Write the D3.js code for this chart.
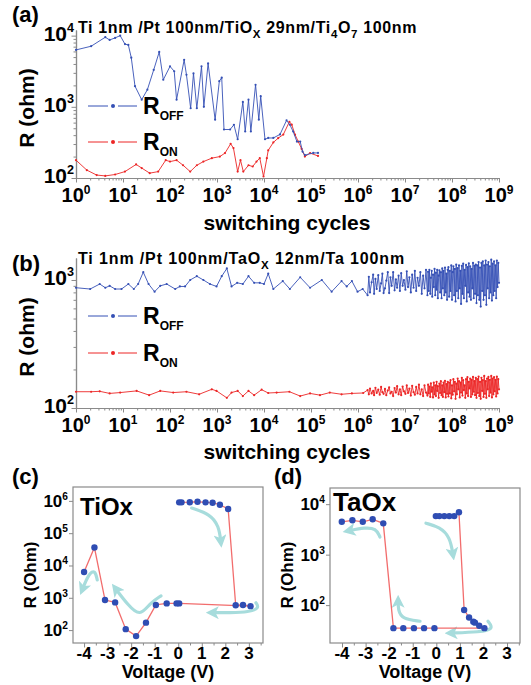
<!DOCTYPE html>
<html>
<head>
<meta charset="utf-8">
<script src="https://cdn.jsdelivr.net/npm/d3@7"></script>
<style>
  body { margin: 0; background: #fff; }
  svg { font-family: Arial, "Liberation Sans", sans-serif; font-weight: bold; }
</style>
</head>
<body>
<svg id="fig" width="531" height="685"></svg>
<script>
// ---- data ----
const cycleTicks = [1e0, 1e1, 1e2, 1e3, 1e4, 1e5, 1e6, 1e7, 1e8, 1e9];
const cycleExp = ['0', '1', '2', '3', '4', '5', '6', '7', '8', '9'];

// (a) TiOx device: [cycles, ohm]
const aOff = [[1, 6300], [2.1, 7100], [4.2, 9500], [5.2, 8700], [6.8, 9300], [8.7, 10000],
  [11, 7600], [13, 7400], [15, 4900], [18, 1950], [25, 1260], [33, 1740], [45, 3300],
  [59, 5900], [72, 2400], [100, 3700], [123, 3160], [138, 1260], [200, 4570], [224, 2820],
  [275, 955], [316, 2950], [372, 955], [468, 3700], [525, 1000], [646, 4070], [912, 660],
  [1120, 2290], [1260, 2570], [1410, 480], [1900, 480], [2290, 560], [2750, 350],
  [3550, 1170], [3980, 450], [4680, 1260], [5250, 450], [6610, 2040], [7760, 660],
  [8510, 1410], [10500, 350], [12300, 365], [15800, 365], [21900, 410], [30200, 645],
  [35500, 560], [41700, 450], [50100, 325], [58900, 325], [66100, 235], [74100, 210],
  [112000, 225], [141000, 225]];
const aOn = [[1, 178], [1.7, 129], [2.75, 110], [4.2, 107], [6.8, 112], [11, 123], [19, 155],
  [25, 138], [37, 117], [56, 123], [81, 178], [100, 170], [138, 178], [190, 151], [269, 123],
  [372, 151], [513, 170], [776, 190], [1150, 200], [1480, 224], [1950, 302], [2240, 263],
  [2750, 123], [3160, 178], [3630, 123], [4680, 151], [5750, 145], [6920, 170], [8130, 190],
  [9770, 105], [11500, 190], [12300, 245], [15800, 316], [20000, 363], [25700, 407],
  [34700, 617], [38900, 562], [45700, 407], [53700, 324], [63100, 257], [74100, 200],
  [95500, 224], [141000, 204]];

// (b) TaOx device, sparse early part: [cycles, ohm]
const bOffSparse = [[1, 870], [2, 850], [3.2, 930], [4.2, 870], [5.2, 900], [6.8, 850],
  [9.3, 850], [13, 930], [17, 850], [21, 930], [27, 1150], [35, 930], [47, 810], [62, 900],
  [85, 930], [129, 850], [162, 890], [209, 890], [269, 1000], [372, 1070], [513, 1000],
  [708, 930], [977, 890], [1260, 1070], [1620, 1230], [2040, 890], [2690, 950], [3550, 930],
  [4680, 1070], [6170, 950], [8130, 950], [10000, 930], [12300, 1120], [15800, 850],
  [25100, 980], [35500, 850], [58900, 1050], [95500, 870], [170000, 1000], [275000, 810],
  [447000, 980], [575000, 890], [741000, 980], [977000, 810], [1260000, 850]];
const bOnSparse = [[1, 134], [2.1, 134], [3.2, 135], [5.2, 130], [8.7, 132], [19.5, 136],
  [36, 126], [62, 136], [117, 132], [224, 134], [417, 128], [776, 140], [977, 136],
  [1620, 120], [2040, 132], [2750, 136], [3550, 124], [4680, 136], [6170, 126], [8900, 139],
  [12300, 131], [18600, 132], [34700, 134], [58900, 124], [95500, 130], [155000, 126],
  [251000, 132], [447000, 128], [741000, 130], [1290000, 131]];

// (b) dense late part, shared cycle counts
const denseCycles = [
  1.6e6, 1.7e6, 1.8e6, 1.95e6, 2.1e6, 2.2e6, 2.35e6, 2.5e6, 2.7e6, 2.9e6,
  3.1e6, 3.3e6, 3.5e6, 3.75e6, 4.0e6, 4.3e6, 4.6e6, 4.9e6, 5.2e6, 5.6e6,
  6.0e6, 6.4e6, 6.8e6, 7.3e6, 7.8e6, 8.3e6, 8.9e6, 9.5e6, 1.02e7, 1.09e7,
  1.16e7, 1.24e7, 1.33e7, 1.42e7, 1.52e7, 1.62e7, 1.73e7, 1.85e7, 1.98e7, 2.12e7,
  2.27e7, 2.43e7, 2.6e7, 2.8e7,
  3.0e7, 3.1e7, 3.2e7, 3.3e7, 3.45e7, 3.55e7, 3.7e7, 3.8e7, 3.95e7, 4.1e7,
  4.25e7, 4.4e7, 4.55e7, 4.7e7, 4.85e7, 5.0e7, 5.2e7, 5.4e7, 5.6e7, 5.8e7,
  6.0e7, 6.2e7, 6.4e7, 6.6e7, 6.85e7, 7.1e7, 7.35e7, 7.6e7, 7.85e7, 8.1e7,
  8.4e7, 8.7e7, 9.0e7, 9.3e7, 9.65e7, 1.0e8, 1.035e8, 1.07e8, 1.11e8, 1.15e8,
  1.19e8, 1.23e8, 1.27e8, 1.32e8, 1.36e8, 1.41e8, 1.46e8, 1.51e8, 1.56e8, 1.62e8,
  1.67e8, 1.73e8, 1.79e8, 1.86e8, 1.92e8, 1.99e8, 2.06e8, 2.13e8, 2.2e8, 2.28e8,
  2.36e8, 2.44e8, 2.53e8, 2.62e8, 2.71e8, 2.8e8, 2.9e8, 3.0e8, 3.1e8, 3.21e8,
  3.32e8, 3.44e8, 3.56e8, 3.68e8, 3.81e8, 3.95e8, 4.08e8, 4.23e8, 4.38e8, 4.53e8,
  4.69e8, 4.85e8, 5.02e8, 5.2e8, 5.38e8, 5.57e8, 5.76e8, 5.96e8, 6.17e8, 6.39e8,
  6.61e8, 6.84e8, 7.08e8, 7.33e8, 7.58e8, 7.85e8, 8.12e8, 8.41e8, 8.7e8, 9.0e8,
  9.32e8, 9.65e8, 1.0e9];
const bOffDense = [
  760, 1060, 800, 960, 1100, 780, 1020, 850, 1090, 820,
  940, 1120, 790, 860, 990, 1150, 790, 1050, 900, 1150,
  830, 1010, 870, 1080, 820, 1130, 900, 1000, 840, 1170,
  880, 1050, 800, 1100, 870, 1180, 820, 1040, 900, 1150,
  780, 1080, 860, 1200,
  760, 1160, 820, 1200, 780, 1040, 1180, 740, 1100, 880,
  1220, 760, 1140, 840, 1200, 720, 1080, 1190, 800, 1150,
  720, 1230, 860, 1180, 760, 1250, 800, 1120, 700, 1200,
  1260, 740, 1180, 820, 1300, 700, 1150, 1280, 760, 1220,
  680, 1320, 820, 1240, 720, 1300, 860, 1180, 650, 1290,
  780, 1340, 720, 1200, 900, 1310, 680, 1260, 800, 1350,
  740, 1280, 700, 1220, 860, 1360, 720, 1290, 780, 1320,
  660, 1300, 760, 1380, 700, 1250, 620, 1360, 820, 1400,
  700, 1300, 760, 1420, 640, 1320, 860, 1380, 720, 1280,
  800, 1440, 690, 1340, 760, 1400, 820, 1300, 720, 1420,
  880, 1360, 950];
const bOnDense = [
  138, 128, 142, 130, 136, 126, 144, 131, 139, 127,
  146, 133, 129, 141, 126, 137, 145, 130, 134, 124,
  143, 132, 148, 128, 140, 126, 147, 135, 129, 150,
  131, 142, 125, 149, 133, 127, 146, 130, 152, 128,
  140, 124, 150, 132,
  125, 152, 130, 147, 122, 156, 134, 145, 121, 158,
  128, 150, 124, 160, 136, 148, 120, 155, 131, 162,
  126, 150, 122, 158, 133, 163, 121, 154, 129, 160,
  123, 158, 130, 165, 119, 150, 127, 168, 135, 160,
  118, 155, 128, 170, 140, 162, 121, 158, 132, 172,
  125, 165, 138, 150, 120, 168, 130, 174, 124, 160,
  142, 170, 122, 166, 128, 175, 134, 162, 126, 172,
  120, 168, 131, 176, 124, 160, 118, 172, 136, 165,
  122, 178, 129, 162, 120, 170, 140, 175, 124, 166,
  132, 178, 121, 170, 128, 174, 135, 166, 123, 176,
  130, 168, 140];

// (c) TiOx R-V sweep, in sweep order
const cVolt = [0.04, 0.14, 0.49, 0.82, 1.16, 1.46, 1.77, 2.12, 2.44, 2.75, 3.07,
  0.04, -0.07, -0.49, -0.95, -1.37, -1.79, -2.23, -2.68, -3.11, -3.56, -4.0];
const cRes = [9.0e5, 9.0e5, 9.1e5, 9.4e5, 9.0e5, 8.8e5, 7.6e5, 5.6e5, 590, 600, 550,
  670, 670, 670, 600, 170, 65, 107, 720, 850, 36000, 6300];
// (d) TaOx R-V sweep
const dVolt = [-0.02, 0.13, 0.34, 0.55, 0.76, 0.96, 1.18, 1.39, 1.57, 1.64, 1.82, 2.04,
  -0.08, -0.52, -0.95, -1.40, -1.82, -2.25, -2.70, -3.12, -3.56, -4.01];
const dRes = [5800, 5800, 5800, 5800, 5800, 6900, 80, 57, 47, 45, 39, 35,
  35, 35, 35, 35, 35, 4170, 5010, 4470, 4790, 4470];

const voltTicks = [-4, -3, -2, -1, 0, 1, 2, 3];
const cResTicks = [1e2, 1e3, 1e4, 1e5, 1e6];
const cResExp = ['2', '3', '4', '5', '6'];
const dResTicks = [1e2, 1e3, 1e4];
const dResExp = ['2', '3', '4'];

// sweep-direction arrows, [V, ohm] anchor points
const cArrows = [
  [[0.57, 6.0e5], [1.35, 3.9e5], [1.73, 1.66e5], [1.81, 5.2e4]],
  [[3.30, 700], [3.45, 480], [3.0, 360], [2.2, 345], [1.4, 345]],
  [[-0.73, 1150], [-1.2, 690], [-1.62, 260], [-2.13, 590], [-2.68, 2000]],
  [[-3.44, 3560], [-3.53, 7200], [-3.79, 5800], [-4.08, 1740]]];
const dArrows = [
  [[-0.44, 4200], [0.16, 3500], [0.58, 2240], [0.71, 980]],
  [[2.19, 48], [2.45, 33.5], [1.85, 29.3], [0.58, 28]],
  [[-0.69, 48], [-1.45, 53], [-1.62, 80], [-1.62, 125]],
  [[-2.39, 2240], [-2.56, 3300], [-3.02, 3460], [-3.75, 2950]]];

// ---- drawing ----
const svg = d3.select('#fig');
const GRAY = '#8a8a8a';
const BLUE = '#3550b5';
const RED = '#ec2626';
const CYAN = '#a7dcdc';

svg.append('defs').append('marker')
  .attr('id', 'head')
  .attr('markerUnits', 'userSpaceOnUse')
  .attr('viewBox', '0 -6 12 12')
  .attr('refX', 7)
  .attr('refY', 0)
  .attr('markerWidth', 13)
  .attr('markerHeight', 13)
  .attr('orient', 'auto')
  .append('path')
  .attr('d', 'M0,-6L12,0L0,6L3,0Z')
  .attr('fill', CYAN);

function powLabel(g, exp, x, y, size, anchor) {
  const t = g.append('text')
    .attr('x', x)
    .attr('y', y)
    .attr('text-anchor', anchor)
    .attr('font-size', size);
  t.append('tspan').text('10');
  t.append('tspan').attr('dy', -size * 0.42).attr('font-size', size * 0.6).text(exp);
  return t;
}

// text made of [string, 'sub'|undefined] parts
function richText(g, parts, x, y, size, width) {
  const t = g.append('text').attr('x', x).attr('y', y).attr('font-size', size);
  let shifted = false;
  parts.forEach(([s, kind]) => {
    const sp = t.append('tspan').text(s);
    if (kind === 'sub') {
      sp.attr('font-size', size * 0.72).attr('dy', shifted ? 0 : size * 0.3);
      shifted = true;
    } else if (shifted) {
      sp.attr('dy', -size * 0.3);
      shifted = false;
    }
  });
  if (width) {
    const w = t.node().getComputedTextLength();
    const n = parts.reduce((a, p) => a + p[0].length, 0);
    t.attr('letter-spacing', (width - w) / n);
  }
  return t;
}

function styleAxis(sel) {
  sel.select('.domain').attr('stroke', GRAY).attr('stroke-width', 1.2);
  sel.selectAll('.tick line').attr('stroke', GRAY);
  return sel;
}

function cyclePanel(cfg) {
  const g = svg.append('g');
  const x = d3.scaleLog().domain([1, 1e9]).range([76, 499]);
  const y = d3.scaleLog().domain(cfg.yDomain).range([cfg.bottom, cfg.top]);

  const minorX = x.ticks(10).filter((d) => !cycleTicks.includes(d));
  const minorY = y.ticks(10).filter((d) => !cfg.yTicks.includes(d));

  styleAxis(g.append('g')
    .attr('transform', `translate(0,${cfg.bottom})`)
    .call(d3.axisBottom(x).tickValues(minorX).tickSize(2.5).tickSizeOuter(0).tickFormat('')));
  styleAxis(g.append('g')
    .attr('transform', `translate(0,${cfg.bottom})`)
    .call(d3.axisBottom(x).tickValues(cycleTicks).tickSize(4.5).tickSizeOuter(0).tickFormat('')));
  styleAxis(g.append('g')
    .attr('transform', 'translate(76,0)')
    .call(d3.axisLeft(y).tickValues(minorY).tickSize(2.5).tickSizeOuter(0).tickFormat('')));
  styleAxis(g.append('g')
    .attr('transform', 'translate(76,0)')
    .call(d3.axisLeft(y).tickValues(cfg.yTicks).tickSize(4.5).tickSizeOuter(0).tickFormat('')));

  cycleTicks.forEach((d, i) => {
    powLabel(g, cycleExp[i], x(d), cfg.bottom + 24, 20, 'middle');
  });
  cfg.yTicks.forEach((d, i) => {
    powLabel(g, cfg.yExp[i], 74, y(d) + 5, 21, 'end');
  });

  g.append('text')
    .attr('x', 287)
    .attr('y', cfg.xLabelY)
    .attr('text-anchor', 'middle')
    .attr('font-size', 21)
    .text('switching cycles');
  g.append('text')
    .attr('transform', `translate(34,${(cfg.top + cfg.bottom) / 2 + 4}) rotate(-90)`)
    .attr('text-anchor', 'middle')
    .attr('font-size', 21)
    .text('R (ohm)');
  g.append('text')
    .attr('x', 12)
    .attr('y', cfg.tagY)
    .attr('font-size', 22)
    .text(cfg.tag);
  richText(g, cfg.title, 78, cfg.titleY, 16, cfg.titleWidth);

  const line = d3.line().x((d) => x(d[0])).y((d) => y(d[1]));
  [[cfg.on, RED], [cfg.off, BLUE]].forEach(([data, col]) => {
    g.append('path')
      .datum(data)
      .attr('d', line)
      .attr('fill', 'none')
      .attr('stroke', col)
      .attr('stroke-width', 0.9);
    g.append('g').selectAll('circle')
      .data(data)
      .join('circle')
      .attr('cx', (d) => x(d[0]))
      .attr('cy', (d) => y(d[1]))
      .attr('r', 1.1)
      .attr('fill', col);
  });

  // legend
  [[cfg.legendY[0], BLUE, 'OFF'], [cfg.legendY[1], RED, 'ON']].forEach(([ly, col, sub]) => {
    [[88, 108], [118, 137]].forEach(([a, b]) => {
      g.append('line')
        .attr('x1', a).attr('x2', b)
        .attr('y1', ly).attr('y2', ly)
        .attr('stroke', col)
        .attr('stroke-width', 1);
    });
    g.append('circle').attr('cx', 113).attr('cy', ly).attr('r', 2).attr('fill', col);
    const t = g.append('text').attr('x', 143).attr('y', ly + 8).attr('font-size', 23);
    t.append('tspan').text('R');
    t.append('tspan').attr('dy', 6).attr('font-size', 12).text(sub);
  });
}

cyclePanel({
  tag: '(a)', tagY: 22,
  title: [['Ti 1nm /Pt 100nm/TiO'], ['X', 'sub'], [' 29nm/Ti'], ['4', 'sub'], ['O'], ['7', 'sub'], [' 100nm']],
  titleY: 33, titleWidth: 339,
  top: 30, bottom: 178, yDomain: [100, 12000],
  yTicks: [1e2, 1e3, 1e4], yExp: ['2', '3', '4'],
  xLabelY: 230,
  legendY: [106, 142],
  off: aOff, on: aOn,
});

cyclePanel({
  tag: '(b)', tagY: 271,
  title: [['Ti 1nm /Pt 100nm/TaO'], ['X', 'sub'], [' 12nm/Ta 100nm']],
  titleY: 264, titleWidth: 327,
  top: 258, bottom: 408, yDomain: [100, 1485],
  yTicks: [1e2, 1e3], yExp: ['2', '3'],
  xLabelY: 459,
  legendY: [316, 353],
  off: bOffSparse.concat(denseCycles.map((c, i) => [c, bOffDense[i]])),
  on: bOnSparse.concat(denseCycles.map((c, i) => [c, bOnDense[i]])),
});

function ivPanel(cfg) {
  const g = svg.append('g');
  const x = d3.scaleLinear().domain(cfg.xDomain).range([cfg.left, cfg.right]);
  const y = d3.scaleLog().domain(cfg.yDomain).range([cfg.bottom, cfg.top]);

  g.append('rect')
    .attr('x', cfg.left)
    .attr('y', cfg.top)
    .attr('width', cfg.right - cfg.left)
    .attr('height', cfg.bottom - cfg.top)
    .attr('fill', 'none')
    .attr('stroke', GRAY)
    .attr('stroke-width', 1.2);

  const halfTicks = voltTicks.map((d) => d + 0.5);
  styleAxis(g.append('g')
    .attr('transform', `translate(0,${cfg.bottom})`)
    .call(d3.axisBottom(x).tickValues(halfTicks).tickSize(2.5).tickSizeOuter(0).tickFormat('')))
    .select('.domain').remove();
  styleAxis(g.append('g')
    .attr('transform', `translate(0,${cfg.bottom})`)
    .call(d3.axisBottom(x).tickValues(voltTicks).tickSize(4.5).tickSizeOuter(0).tickFormat('')))
    .select('.domain').remove();
  styleAxis(g.append('g')
    .attr('transform', `translate(${cfg.left},0)`)
    .call(d3.axisLeft(y).tickValues(cfg.yTicks).tickSize(4).tickSizeOuter(0).tickFormat('')))
    .select('.domain').remove();

  voltTicks.forEach((d) => {
    g.append('text')
      .attr('x', x(d))
      .attr('y', cfg.bottom + 16)
      .attr('text-anchor', 'middle')
      .attr('font-size', 17)
      .text(d < 0 ? '-' + Math.abs(d) : String(d));
  });
  cfg.yTicks.forEach((d, i) => {
    powLabel(g, cfg.yExp[i], cfg.left - 5, y(d) + 6, 17, 'end');
  });

  g.append('text')
    .attr('x', (cfg.left + cfg.right) / 2)
    .attr('y', 678)
    .attr('text-anchor', 'middle')
    .attr('font-size', 18)
    .text('Voltage (V)');
  g.append('text')
    .attr('transform', `translate(${cfg.yLabelX},575) rotate(-90)`)
    .attr('text-anchor', 'middle')
    .attr('font-size', 17)
    .text('R (Ohm)');
  g.append('text')
    .attr('x', cfg.tagX)
    .attr('y', 484)
    .attr('font-size', 22)
    .text(cfg.tag);
  g.append('text')
    .attr('x', cfg.nameX)
    .attr('y', cfg.nameY)
    .attr('font-size', cfg.nameSize)
    .text(cfg.name);

  const curve = d3.line().curve(d3.curveBasis).x((d) => x(d[0])).y((d) => y(d[1]));
  g.append('g').selectAll('path')
    .data(cfg.arrows)
    .join('path')
    .attr('d', curve)
    .attr('fill', 'none')
    .attr('stroke', CYAN)
    .attr('stroke-width', 3.2)
    .attr('stroke-linecap', 'round')
    .attr('marker-end', 'url(#head)');

  const pts = cfg.volt.map((v, i) => [v, cfg.res[i]]);
  g.append('path')
    .datum(pts)
    .attr('d', d3.line().x((d) => x(d[0])).y((d) => y(d[1])))
    .attr('fill', 'none')
    .attr('stroke', '#f26d6d')
    .attr('stroke-width', 1.3);
  g.append('g').selectAll('circle')
    .data(pts)
    .join('circle')
    .attr('cx', (d) => x(d[0]))
    .attr('cy', (d) => y(d[1]))
    .attr('r', 3.2)
    .attr('fill', '#2f4db3');
}

ivPanel({
  tag: '(c)', tagX: 12, name: 'TiOx', nameX: 80, nameY: 515, nameSize: 24,
  left: 73, right: 263, top: 487, bottom: 643,
  xDomain: [-4.47, 3.6], yDomain: [Math.pow(10, 1.6), Math.pow(10, 6.43)],
  yTicks: cResTicks, yExp: cResExp, yLabelX: 36,
  volt: cVolt, res: cRes, arrows: cArrows,
});

ivPanel({
  tag: '(d)', tagX: 274, name: 'TaOx', nameX: 333, nameY: 511, nameSize: 26,
  left: 330, right: 520, top: 488, bottom: 643,
  xDomain: [-4.51, 3.55], yDomain: [Math.pow(10, 1.25), Math.pow(10, 4.32)],
  yTicks: dResTicks, yExp: dResExp, yLabelX: 293,
  volt: dVolt, res: dRes, arrows: dArrows,
});
</script>
</body>
</html>
